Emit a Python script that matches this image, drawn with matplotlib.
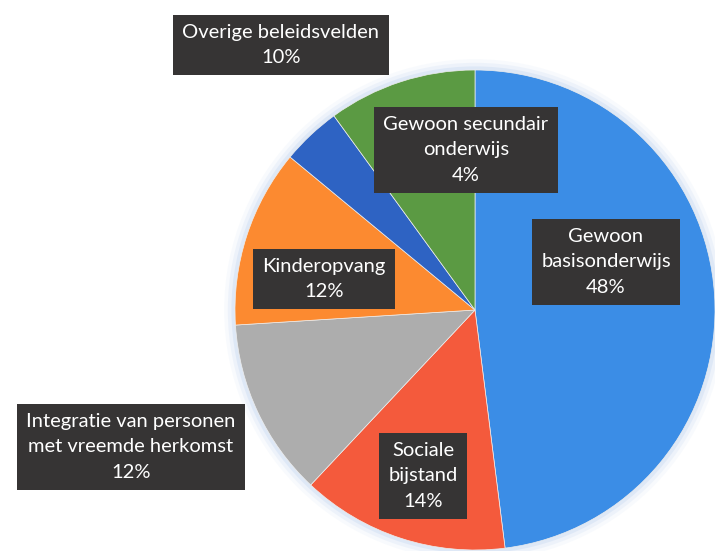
import matplotlib.pyplot as plt
from matplotlib.patches import Circle

labels = ['Gewoon\nbasisonderwijs', 'Sociale\nbijstand', 'Integratie van personen\nmet vreemde herkomst',
          'Kinderopvang', 'Gewoon secundair\nonderwijs', 'Overige beleidsvelden']
shares = [48, 14, 12, 12, 4, 10]
colors = ['#3b8de6', '#f45a3c', '#adadad', '#fc8a30', '#2e63c3', '#5b9a43']

# label box centres in pixels (x from left, y from top)
label_px = [(606, 262), (423, 476), (131, 447), (324, 279), (466, 150), (281, 45)]

W, H = 715, 551
cx, cy, r = 475, 310, 240

fig = plt.figure(figsize=(W / 100, H / 100), dpi=100)
ax = fig.add_axes([0, 0, 1, 1])
ax.set_aspect('equal')
ax.axis('off')

# soft glow round the pie
for k, a in [(1.045, 0.10), (1.03, 0.18), (1.015, 0.3)]:
    ax.add_patch(Circle((0, 0), k, color='#bcd3f0', alpha=a, lw=0, zorder=0))

ax.pie(shares, colors=colors, startangle=90, counterclock=False, radius=1,
       wedgeprops=dict(linewidth=0.5, edgecolor='#eeeeee'))
ax.set_xlim(-cx / r, (W - cx) / r)
ax.set_ylim(-(H - cy) / r, cy / r)

for lab, s, (px, py) in zip(labels, shares, label_px):
    ax.text((px - cx) / r, (cy - py) / r, f'{lab}\n{s}%', ha='center', va='center',
            multialignment='center', color='white', fontsize=14.5, family='Lato',
            linespacing=1.6,
            bbox=dict(boxstyle='square,pad=0.45', fc='#363434', ec='none'), zorder=5)

fig.savefig('out.png', dpi=100)
